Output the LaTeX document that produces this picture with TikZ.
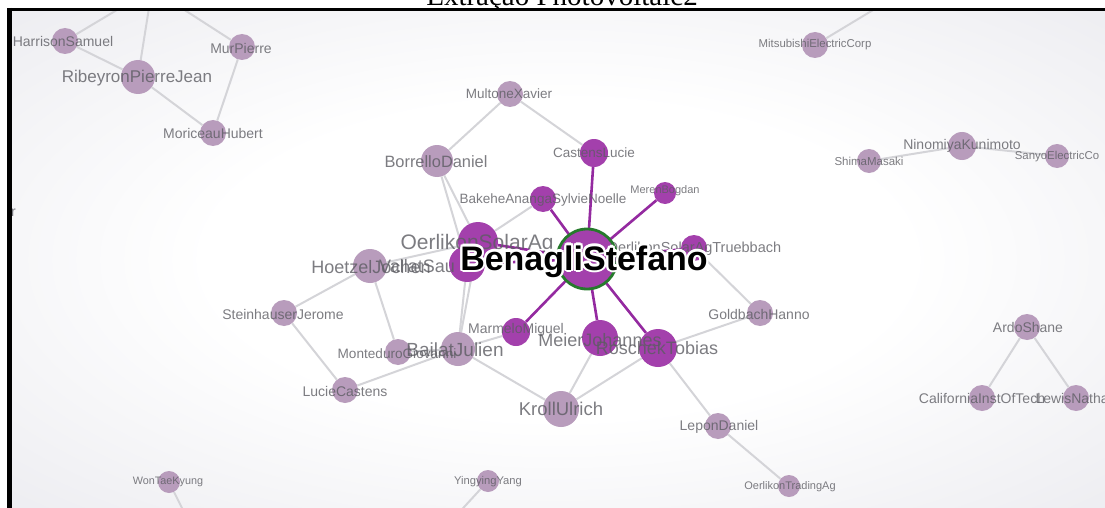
\documentclass[tikz,border=0pt]{standalone}
\usepackage{fontspec}
\setmainfont{Liberation Serif}
\newfontfamily\netfont{Liberation Sans}

\definecolor{frameBg}{RGB}{224,224,231}
\definecolor{lightNode}{RGB}{184,156,188}
\definecolor{hotNode}{RGB}{163,64,172}
\definecolor{hotEdge}{RGB}{148,42,160}
\definecolor{greyEdge}{RGB}{212,212,216}
\definecolor{labelGrey}{RGB}{92,92,98}
\definecolor{ringGreen}{RGB}{38,122,44}

\pgfdeclarelayer{bg}
\pgfdeclarelayer{edges}
\pgfsetlayers{bg,edges,main}

% soft white glow in the middle of the canvas
\pgfdeclareradialshading{canvasglow}{\pgfpoint{0bp}{0bp}}{%
  color(0bp)=(white); color(16bp)=(white); color(50bp)=(frameBg); color(100bp)=(frameBg)}

\begin{document}
\begin{tikzpicture}[x=1pt,y=-1pt,
  lnode/.style={circle, fill=lightNode, draw=none, inner sep=0pt, minimum size=#1},
  hnode/.style={circle, fill=hotNode, draw=none, inner sep=0pt, minimum size=#1},
  lab/.style={font=\netfont\fontsize{#1}{#1}\selectfont, text=labelGrey, text opacity=0.8, inner sep=0pt},
  gedge/.style={draw=greyEdge, line width=2},
  hedge/.style={draw=hotEdge, line width=2.6},
  bigname/.style={font=\netfont\bfseries\fontsize{34}{34}\selectfont, inner sep=0pt, anchor=base},
  framerule/.style={draw=black, line width=#1}
]
\useasboundingbox (0,0) rectangle (1105,508);

% ---------- page and canvas background ----------
\begin{pgfonlayer}{bg}
  \fill[white] (0,0) rectangle (1105,508);
  \shade[shading=canvasglow] (11,11) rectangle (1105,508);
\end{pgfonlayer}

% ---------- title strip ----------
\begin{scope}
  \clip (0,0) rectangle (1105,8);
  \node[anchor=base, font=\fontsize{29}{30}\selectfont, inner sep=0pt] (title) at (562,6) {Extração Photovoltaic2};
\end{scope}

\begin{scope}
\clip (11,11) rectangle (1105,508);

% ---------- nodes ----------
\coordinate (hub) at (152,-11);
\coordinate (wonOut) at (193,530);
\coordinate (yingOut) at (443,530);

\node[lnode=26] (harrison) at (65,41) {};
\node[lnode=34] (ribeyron) at (138,77) {};
\node[lnode=26] (mur) at (242,47) {};
\node[lnode=26] (moriceau) at (213,133) {};

\node[lnode=26] (mitsuTop) at (893,-2) {};
\node[lnode=26] (mitsu) at (815,45) {};
\node[lnode=28] (ninomiya) at (962,146) {};
\node[lnode=24] (shima) at (869,161) {};
\node[lnode=24] (sanyo) at (1057,156) {};

\node[lnode=26] (multone) at (510,94) {};
\node[lnode=32] (borrello) at (437,161) {};
\node[hnode=28] (castens) at (594,153) {};
\node[hnode=26] (bakehe) at (543,199) {};
\node[hnode=22] (meren) at (665,193) {};
\node[hnode=40] (oerSolar) at (478,242) {};
\node[hnode=36] (vallat) at (467,264) {};
\node[lnode=34] (hoetzel) at (370,266) {};
\node[hnode=26] (truebbach) at (694,248) {};

\node[lnode=26] (steinhauser) at (284,313) {};
\node[hnode=28] (marmelo) at (516,332) {};
\node[hnode=36] (meier) at (600,338) {};
\node[hnode=38] (roschek) at (658,348) {};
\node[lnode=26] (goldbach) at (760,313) {};
\node[lnode=34] (bailat) at (458,349) {};
\node[lnode=26] (monteduro) at (398,352) {};
\node[lnode=26] (lucie) at (345,390) {};
\node[lnode=36] (kroll) at (561,409) {};
\node[lnode=26] (lepon) at (718,426) {};
\node[lnode=22] (oerTrading) at (789,486) {};

\node[lnode=26] (ardo) at (1027,327) {};
\node[lnode=26] (caltech) at (982,398) {};
\node[lnode=26] (lewis) at (1076,398) {};

\node[lnode=22] (won) at (169,482) {};
\node[lnode=22] (yingying) at (488,481) {};

\node[circle, inner sep=0pt, minimum size=62] (benagli) at (587,259) {};

% ---------- connectors ----------
\begin{pgfonlayer}{edges}
  \clip (11,11) rectangle (1105,508);
  \draw[gedge] (hub) -- (harrison);
  \draw[gedge] (hub) -- (ribeyron);
  \draw[gedge] (hub) -- (mur);
  \draw[gedge] (harrison) -- (ribeyron);
  \draw[gedge] (ribeyron) -- (moriceau);
  \draw[gedge] (mur) -- (moriceau);
  \draw[gedge] (mitsu) -- (mitsuTop);
  \draw[gedge] (shima) -- (ninomiya);
  \draw[gedge] (ninomiya) -- (sanyo);
  \draw[gedge] (multone) -- (borrello);
  \draw[gedge] (multone) -- (castens);
  \draw[gedge] (borrello) -- (oerSolar);
  \draw[gedge] (borrello) -- (vallat);
  \draw[gedge] (bakehe) -- (oerSolar);
  \draw[gedge] (hoetzel) -- (oerSolar);
  \draw[gedge] (hoetzel) -- (steinhauser);
  \draw[gedge] (hoetzel) -- (monteduro);
  \draw[gedge] (steinhauser) -- (lucie);
  \draw[gedge] (lucie) -- (bailat);
  \draw[gedge] (monteduro) -- (bailat);
  \draw[gedge] (oerSolar) -- (bailat);
  \draw[gedge] (vallat) -- (bailat);
  \draw[gedge] (bailat) -- (marmelo);
  \draw[gedge] (bailat) -- (kroll);
  \draw[gedge] (kroll) -- (meier);
  \draw[gedge] (kroll) -- (roschek);
  \draw[gedge] (roschek) -- (goldbach);
  \draw[gedge] (roschek) -- (lepon);
  \draw[gedge] (lepon) -- (oerTrading);
  \draw[gedge] (goldbach) -- (truebbach);
  \draw[gedge] (ardo) -- (caltech);
  \draw[gedge] (ardo) -- (lewis);
  \draw[gedge] (won) -- (wonOut);
  \draw[gedge] (yingying) -- (yingOut);

  \draw[hedge] (benagli.center) -- (castens);
  \draw[hedge] (benagli.center) -- (bakehe);
  \draw[hedge] (benagli.center) -- (meren);
  \draw[hedge] (benagli.center) -- (truebbach);
  \draw[hedge] (benagli.center) -- (oerSolar);
  \draw[hedge] (benagli.center) -- (vallat);
  \draw[hedge] (benagli.center) -- (marmelo);
  \draw[hedge] (benagli.center) -- (meier);
  \draw[hedge] (benagli.center) -- (roschek);
\end{pgfonlayer}

% ---------- labels ----------
\node[lab=14] (harrison-l) at (63,41) {HarrisonSamuel};
\node[lab=17] (ribeyron-l) at (137,78) {RibeyronPierreJean};
\node[lab=14] (mur-l) at (241,48) {MurPierre};
\node[lab=14] (moriceau-l) at (213,133) {MoriceauHubert};
\node[lab=11.4] (mitsu-l) at (815,45) {MitsubishiElectricCorp};
\node[lab=14] (ninomiya-l) at (962,146) {NinomiyaKunimoto};
\node[lab=11.5] (shima-l) at (869,161) {ShimaMasaki};
\node[lab=11.4] (sanyo-l) at (1057,157) {SanyoElectricCo};
\node[lab=14, anchor=east] (edge-r) at (16,213) {r};
\node[lab=13.5] (multone-l) at (509,94) {MultoneXavier};
\node[lab=16.4] (borrello-l) at (436,162) {BorrelloDaniel};
\node[lab=13.5] (castens-l) at (594,153) {CastensLucie};
\node[lab=13.5] (bakehe-l) at (543,200) {BakeheAnangaSylvieNoelle};
\node[lab=11] (meren-l) at (665,191) {MerenBogdan};
\node[lab=21] (oerSolar-l) at (477,244) {OerlikonSolarAg};
\node[lab=18, anchor=west] (vallat-l) at (379,266) {VallatSau};
\node[lab=18] (hoetzel-l) at (371,267) {HoetzelJochen};
\node[lab=14.5] (truebbach-l) at (694,249) {OerlikonSolarAgTruebbach};
\node[lab=14] (steinhauser-l) at (283,314) {SteinhauserJerome};
\node[lab=14] (marmelo-l) at (516,330) {MarmeloMiguel};
\node[lab=18] (meier-l) at (600,340) {MeierJohannes};
\node[lab=18] (roschek-l) at (657,348) {RoschekTobias};
\node[lab=14] (goldbach-l) at (759,314) {GoldbachHanno};
\node[lab=19] (bailat-l) at (455,350) {BailatJulien};
\node[lab=13.6] (monteduro-l) at (397,354) {MonteduroGiovanni};
\node[lab=14] (lucie-l) at (345,391) {LucieCastens};
\node[lab=18.5] (kroll-l) at (561,409) {KrollUlrich};
\node[lab=14] (lepon-l) at (719,427) {LeponDaniel};
\node[lab=11] (oerTrading-l) at (790,487) {OerlikonTradingAg};
\node[lab=14] (ardo-l) at (1028,327) {ArdoShane};
\node[lab=14] (caltech-l) at (982,398) {CaliforniaInstOfTech};
\node[lab=14] (lewis-l) at (1076,398) {LewisNathan};
\node[lab=10.8] (won-l) at (168,482) {WonTaeKyung};
\node[lab=11.2] (yingying-l) at (488,482) {YingyingYang};

% ---------- the selected node and its haloed name ----------
\fill[hotNode] (benagli.center) circle (30);
\draw[ringGreen, line width=2.8] (benagli.center) circle (30);
\foreach \a in {0,30,...,330}
  \node[bigname, text=white, shift={(\a:2.2pt)}] (halo\a) at (584,270) {BenagliStefano};
\node[bigname, text=black] (benagli-l) at (584,270) {BenagliStefano};
\end{scope}

% ---------- frame rules ----------
\draw[framerule=3.6] (7,9.7) -- (1105,9.7);
\draw[framerule=4.4] (9.3,8) -- (9.3,508);
\end{tikzpicture}
\end{document}
